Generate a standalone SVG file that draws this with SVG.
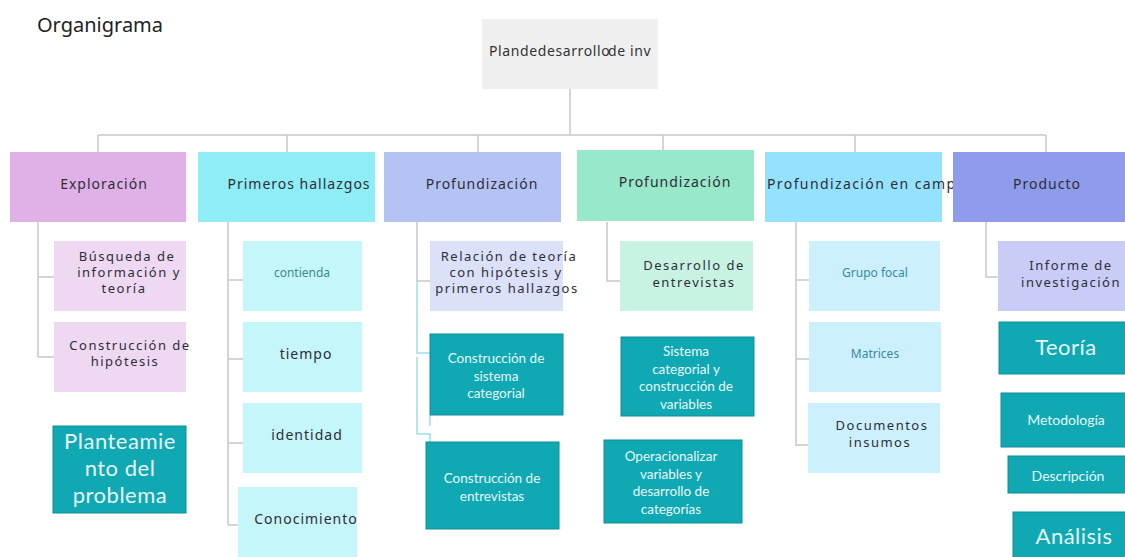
<svg xmlns="http://www.w3.org/2000/svg" width="1125" height="557" viewBox="0 0 1125 557">
<style>
text{font-family:"Noto Sans","DejaVu Sans",sans-serif;}
.lbl{font-size:14px;letter-spacing:1px;fill:#2e2e38;text-anchor:middle;}
.ml{font-size:13px;letter-spacing:1.5px;fill:#2e2e38;text-anchor:middle;}
.sm{font-size:12px;text-anchor:middle;}
.tl{font-family:Lato,"Noto Sans",sans-serif;fill:#e6f7f7;text-anchor:middle;font-size:14px;}
.tm{font-family:Lato,"Noto Sans",sans-serif;fill:#e6f7f7;text-anchor:middle;font-size:13.5px;}
.big{font-size:22px;letter-spacing:0.5px;}
.teal{fill:#0fa8b3;stroke:#0c8f97;stroke-width:1;}
.conn{fill:none;stroke:#c8c8c8;stroke-width:1.5;}
.cy{fill:none;stroke:#9fdfe6;stroke-width:1.5;}
</style>
<rect width="1125" height="557" fill="#ffffff"/>
<text x="37" y="32" font-size="20" fill="#222" font-family="Noto Sans,sans-serif">Organigrama</text>

<g id="connectors">
<path class="conn" d="M570,89V135M98,135H1046M98,135V152M287,135V152M478,135V152M663,135V150M855,135V152M1046,135V152"/>
<path class="conn" d="M38,222V357M38,277H54M38,357H54"/>
<path class="conn" d="M228,222V525M228,280H243M228,359H243M228,443H243M228,525H238"/>
<path class="conn" d="M417,222V281H430"/>
<path class="cy" d="M417,281V353H430M417,357V434H430V442M430,415V426"/>
<path class="conn" d="M607,222V281H620"/>
<path class="conn" d="M796,222V445H808M796,280H809M796,359H809"/>
<path class="conn" d="M986,222V277H998"/>
</g>

<g id="root">
<rect x="482" y="19" width="176" height="70" fill="#f0f0f0"/>
<text y="56" font-size="14" fill="#333"><tspan x="489" letter-spacing="0.6">Plandedesarrollo</tspan><tspan x="608" letter-spacing="0.6">de inv</tspan></text>
</g>

<g id="exploracion">
<rect x="10" y="152" width="176" height="70" fill="#e0b1e7"/>
<text class="lbl" x="104" y="189">Exploración</text>
</g>
<g id="primeros">
<rect x="198" y="152" width="177" height="70" fill="#8eedf5"/>
<text class="lbl" x="299" y="189">Primeros hallazgos</text>
</g>
<g id="profundizacion1">
<rect x="384" y="152" width="177" height="70" fill="#b5c3f4"/>
<text class="lbl" x="482" y="189">Profundización</text>
</g>
<g id="profundizacion2">
<rect x="577" y="150" width="177" height="71" fill="#98e9c9"/>
<text class="lbl" x="675" y="187">Profundización</text>
</g>
<g id="campo">
<rect x="765" y="152" width="177" height="70" fill="#95e2fe"/>
<text class="lbl" x="767" y="189" style="text-anchor:start;letter-spacing:1.4px">Profundización en campo</text>
</g>
<g id="producto">
<rect x="953" y="152" width="172" height="70" fill="#8f9cec"/>
<text class="lbl" x="1047" y="189">Producto</text>
</g>

<g id="busqueda">
<rect x="54" y="241" width="132" height="70" fill="#eed8f2"/>
<text class="ml" y="261"><tspan x="127">Búsqueda de</tspan><tspan x="129" dy="16">información y</tspan><tspan x="124" dy="16">teoría</tspan></text>
</g>
<g id="hipotesis">
<rect x="54" y="322" width="132" height="70" fill="#eed8f2"/>
<text class="ml" y="350"><tspan x="130">Construcción de</tspan><tspan x="125" dy="16">hipótesis</tspan></text>
</g>
<g id="planteamiento">
<rect class="teal" x="53" y="426" width="133" height="87"/>
<text class="tl big" y="449"><tspan x="120">Planteamie</tspan><tspan x="120" dy="27">nto del</tspan><tspan x="120" dy="27">problema</tspan></text>
</g>

<g id="contienda">
<rect x="243" y="241" width="119" height="70" fill="#c5f6f9"/>
<text class="sm" x="302" y="277" fill="#3c8c8c" font-size="11">contienda</text>
</g>
<g id="tiempo">
<rect x="243" y="322" width="119" height="70" fill="#c5f6f9"/>
<text class="lbl" x="306" y="359">tiempo</text>
</g>
<g id="identidad">
<rect x="243" y="403" width="119" height="70" fill="#c5f6f9"/>
<text class="lbl" x="307" y="440">identidad</text>
</g>
<g id="conocimiento">
<rect x="238" y="487" width="119" height="70" fill="#c5f6f9"/>
<text class="lbl" x="306" y="524">Conocimiento</text>
</g>

<g id="relacion">
<rect x="430" y="241" width="133" height="70" fill="#dbe1f8"/>
<text class="ml" y="261"><tspan x="509">Relación de teoría</tspan><tspan x="506" dy="16">con hipótesis y</tspan><tspan x="507" dy="16">primeros hallazgos</tspan></text>
</g>
<g id="sistema1">
<rect class="teal" x="430" y="334" width="133" height="81"/>
<text class="tm" y="363"><tspan x="496">Construcción de</tspan><tspan x="496" dy="17.5">sistema</tspan><tspan x="496" dy="17.5">categorial</tspan></text>
</g>
<g id="entrevistas1">
<rect class="teal" x="426" y="442" width="133" height="87"/>
<text class="tm" y="483"><tspan x="492">Construcción de</tspan><tspan x="492" dy="17.5">entrevistas</tspan></text>
</g>

<g id="desarrollo">
<rect x="620" y="241" width="133" height="70" fill="#c8f3e2"/>
<text class="ml" y="270"><tspan x="694">Desarrollo de</tspan><tspan x="694" dy="16.5">entrevistas</tspan></text>
</g>
<g id="sistema2">
<rect class="teal" x="621" y="337" width="133" height="79"/>
<text class="tm" y="356"><tspan x="686">Sistema</tspan><tspan x="686" dy="17.5">categorial y</tspan><tspan x="686" dy="17.5">construcción de</tspan><tspan x="686" dy="17.5">variables</tspan></text>
</g>
<g id="operacionalizar">
<rect class="teal" x="604" y="440" width="138" height="83"/>
<text class="tm" y="461"><tspan x="671">Operacionalizar</tspan><tspan x="671" dy="17.5">variables y</tspan><tspan x="671" dy="17.5">desarrollo de</tspan><tspan x="671" dy="17.5">categorías</tspan></text>
</g>

<g id="grupo">
<rect x="809" y="241" width="131" height="70" fill="#ccf0fe"/>
<text class="sm" x="875" y="277" fill="#3a8aa2">Grupo focal</text>
</g>
<g id="matrices">
<rect x="809" y="322" width="132" height="70" fill="#ccf0fe"/>
<text class="sm" x="875" y="358" fill="#3a8aa2">Matrices</text>
</g>
<g id="documentos">
<rect x="808" y="403" width="132" height="70" fill="#ccf0fe"/>
<text class="ml" y="430"><tspan x="882">Documentos</tspan><tspan x="880" dy="17">insumos</tspan></text>
</g>

<g id="informe">
<rect x="998" y="241" width="127" height="70" fill="#c8ccf6"/>
<text class="ml" y="270"><tspan x="1071">Informe de</tspan><tspan x="1071" dy="16.5">investigación</tspan></text>
</g>
<g id="teoria">
<rect class="teal" x="999" y="322" width="130" height="52"/>
<text class="tl big" x="1066" y="355">Teoría</text>
</g>
<g id="metodologia">
<rect class="teal" x="1001" y="393" width="128" height="54"/>
<text class="tl" x="1066" y="425">Metodología</text>
</g>
<g id="descripcion">
<rect class="teal" x="1008" y="456" width="121" height="37"/>
<text class="tl" x="1068" y="481">Descripción</text>
</g>
<g id="analisis">
<rect class="teal" x="1013" y="512" width="116" height="50"/>
<text class="tl big" x="1074" y="544">Análisis</text>
</g>
</svg>
